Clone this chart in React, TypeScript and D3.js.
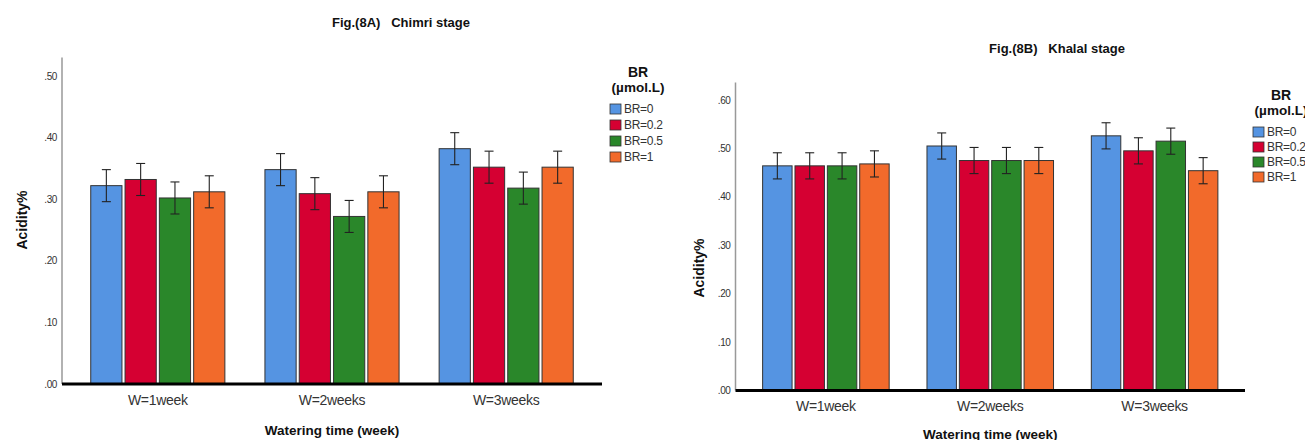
import { useEffect, useRef } from 'react'
import * as d3 from 'd3'

const categories = ['W=1week', 'W=2weeks', 'W=3weeks']
const seriesNames = ['BR=0', 'BR=0.2', 'BR=0.5', 'BR=1']
const colors = ['#5594E2', '#D50032', '#2A872A', '#F26A2B']

// Fig 8A, Chimri stage: means per series across the three watering times
const chimriMeans = [
  [0.322, 0.348, 0.382],
  [0.332, 0.309, 0.352],
  [0.302, 0.272, 0.318],
  [0.312, 0.312, 0.352],
]
const chimriErr = [
  [0.026, 0.026, 0.026],
  [0.026, 0.026, 0.026],
  [0.026, 0.026, 0.026],
  [0.026, 0.026, 0.026],
]
const chimriTicks = [0, 0.1, 0.2, 0.3, 0.4, 0.5]

// Fig 8B, Khalal stage
const khalalMeans = [
  [0.464, 0.505, 0.526],
  [0.464, 0.475, 0.495],
  [0.464, 0.475, 0.515],
  [0.468, 0.475, 0.454],
]
const khalalErr = [
  [0.027, 0.027, 0.027],
  [0.027, 0.027, 0.027],
  [0.027, 0.027, 0.027],
  [0.027, 0.027, 0.027],
]
const khalalTicks = [0, 0.1, 0.2, 0.3, 0.4, 0.5, 0.6]

const FONT = '"Liberation Sans", Arial, sans-serif'

function drawPanel(svg, cfg) {
  const g = svg.append('g')
  const y = d3.scaleLinear().domain([0, cfg.yMax]).range([cfg.bottom, cfg.yTop])
  const x = d3
    .scaleBand()
    .domain(categories)
    .range([cfg.left, cfg.right])
    .paddingInner(0.23)
    .paddingOuter(0.165)
  const xs = d3.scaleBand().domain(seriesNames).range([0, x.bandwidth()]).paddingInner(0.09)
  const fmt = (v) => d3.format('.2f')(v).replace(/^0/, '')

  g.append('text')
    .attr('x', cfg.titleX)
    .attr('y', cfg.titleY)
    .attr('text-anchor', 'middle')
    .style('font', `bold 13px ${FONT}`)
    .style('white-space', 'pre')
    .style('fill', '#111')
    .text(cfg.title)

  // y axis line
  g.append('line')
    .attr('x1', cfg.left)
    .attr('x2', cfg.left)
    .attr('y1', y(cfg.axisTop))
    .attr('y2', cfg.bottom)
    .attr('stroke', '#999')
    .attr('stroke-width', 1.5)

  g.append('g')
    .selectAll('text')
    .data(cfg.ticks)
    .join('text')
    .attr('x', cfg.left - 5)
    .attr('y', (d) => y(d) + 3.5)
    .attr('text-anchor', 'end')
    .style('font', `10px ${FONT}`)
    .style('letter-spacing', '-0.4px')
    .style('fill', '#333')
    .text((d) => fmt(d))

  g.append('text')
    .attr('transform', `translate(${cfg.yTitleX},${cfg.yTitleY}) rotate(-90)`)
    .attr('text-anchor', 'middle')
    .style('font', `bold 14px ${FONT}`)
    .style('fill', '#111')
    .text('Acidity%')

  seriesNames.forEach((s, si) => {
    const bars = g.append('g')
    categories.forEach((c, ci) => {
      const v = cfg.means[si][ci]
      const e = cfg.err[si][ci]
      const bx = x(c) + xs(s)
      const cx = bx + xs.bandwidth() / 2
      bars
        .append('rect')
        .attr('x', bx)
        .attr('y', y(v))
        .attr('width', xs.bandwidth())
        .attr('height', cfg.bottom - y(v))
        .attr('fill', colors[si])
        .attr('stroke', '#333')
        .attr('stroke-width', 1)
      const eb = bars.append('g').attr('stroke', '#222').attr('stroke-width', 1.1)
      eb.append('line').attr('x1', cx).attr('x2', cx).attr('y1', y(v + e)).attr('y2', y(v - e))
      eb.append('line').attr('x1', cx - 4.5).attr('x2', cx + 4.5).attr('y1', y(v + e)).attr('y2', y(v + e))
      eb.append('line').attr('x1', cx - 4.5).attr('x2', cx + 4.5).attr('y1', y(v - e)).attr('y2', y(v - e))
    })
  })

  // baseline
  g.append('line')
    .attr('x1', cfg.left)
    .attr('x2', cfg.right)
    .attr('y1', cfg.bottom)
    .attr('y2', cfg.bottom)
    .attr('stroke', '#000')
    .attr('stroke-width', 3)

  g.append('g')
    .selectAll('text')
    .data(categories)
    .join('text')
    .attr('x', (d) => x(d) + x.bandwidth() / 2)
    .attr('y', cfg.bottom + cfg.catDy)
    .attr('text-anchor', 'middle')
    .style('font', `14px ${FONT}`)
    .style('letter-spacing', '-0.3px')
    .style('fill', '#333')
    .text((d) => d)

  g.append('text')
    .attr('x', x(categories[1]) + x.bandwidth() / 2)
    .attr('y', cfg.xTitleY)
    .attr('text-anchor', 'middle')
    .style('font', `bold 13.5px ${FONT}`)
    .style('fill', '#111')
    .text('Watering time (week)')

  // legend
  const lg = g.append('g')
  lg.append('text')
    .attr('x', cfg.legX + 28)
    .attr('y', cfg.legY)
    .attr('text-anchor', 'middle')
    .style('font', `bold 14px ${FONT}`)
    .style('fill', '#111')
    .text('BR')
  lg.append('text')
    .attr('x', cfg.legX + 28)
    .attr('y', cfg.legY + 15)
    .attr('text-anchor', 'middle')
    .style('font', `bold 13.5px ${FONT}`)
    .style('fill', '#111')
    .text('(µmol.L)')
  seriesNames.forEach((s, si) => {
    const iy = cfg.legY + 32 + si * cfg.legStep
    lg.append('rect')
      .attr('x', cfg.legX)
      .attr('y', iy - 5)
      .attr('width', 11)
      .attr('height', 10)
      .attr('fill', colors[si])
      .attr('stroke', '#333')
      .attr('stroke-width', 0.8)
    lg.append('text')
      .attr('x', cfg.legX + 14)
      .attr('y', iy + 4)
      .style('font', `12px ${FONT}`)
      .style('letter-spacing', '-0.3px')
      .style('fill', '#333')
      .text(s)
  })
}

export default function App() {
  const ref = useRef(null)

  useEffect(() => {
    if (!ref.current) return
    const svg = d3.select(ref.current)
    svg.selectAll('*').remove()

    drawPanel(svg, {
      title: 'Fig.(8A)   Chimri stage',
      titleX: 401,
      titleY: 27,
      means: chimriMeans,
      err: chimriErr,
      ticks: chimriTicks,
      yMax: 0.5,
      axisTop: 0.53,
      left: 62,
      right: 602,
      bottom: 384,
      yTop: 76,
      yTitleX: 27,
      yTitleY: 220,
      catDy: 21,
      xTitleY: 435,
      legX: 610,
      legY: 77,
      legStep: 16,
    })

    drawPanel(svg, {
      title: 'Fig.(8B)   Khalal stage',
      titleX: 1057,
      titleY: 53,
      means: khalalMeans,
      err: khalalErr,
      ticks: khalalTicks,
      yMax: 0.6,
      axisTop: 0.636,
      left: 735.5,
      right: 1245,
      bottom: 390.5,
      yTop: 100,
      yTitleX: 704,
      yTitleY: 268,
      catDy: 20,
      xTitleY: 439,
      legX: 1253,
      legY: 100,
      legStep: 15,
    })
  }, [])

  return (
    <svg
      ref={ref}
      width={1305}
      height={440}
      style={{ position: 'absolute', left: 0, top: 0, background: '#fff' }}
    />
  )
}
